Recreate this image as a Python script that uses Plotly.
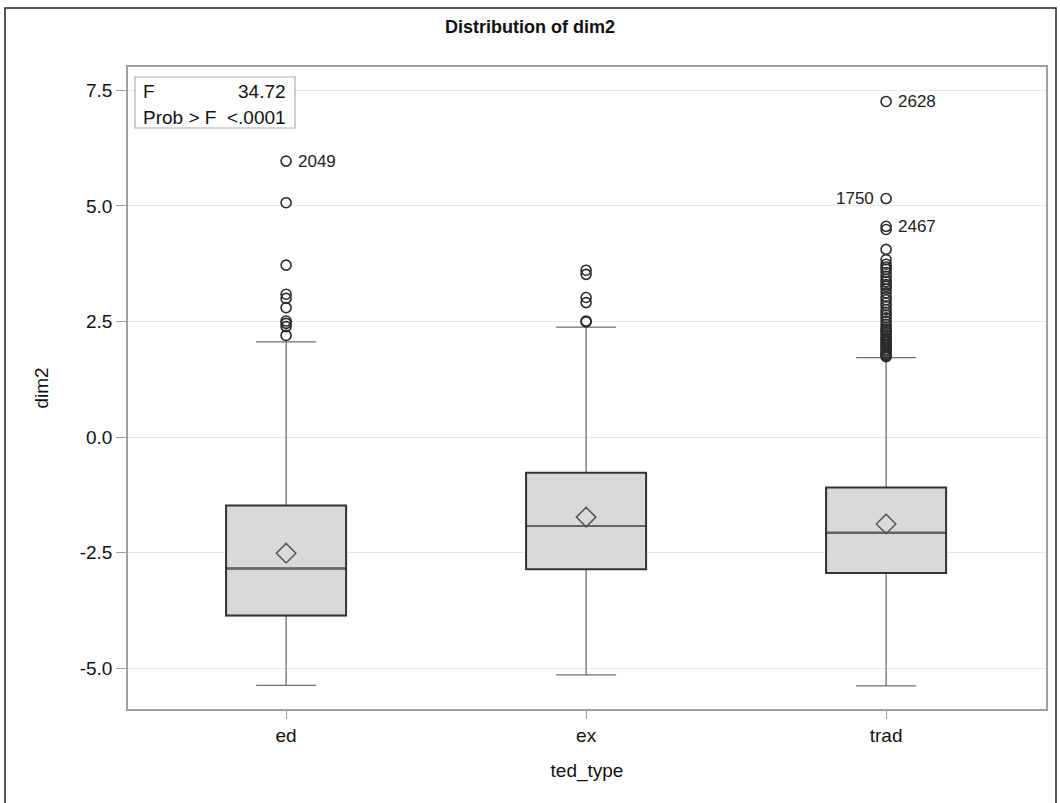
import plotly.graph_objects as go

# ---------------- data ----------------
categories = ["ed", "ex", "trad"]
q1 = [-3.86, -2.86, -2.94]
median = [-2.84, -1.92, -2.07]
q3 = [-1.48, -0.77, -1.09]
lower_whisker = [-5.37, -5.14, -5.38]
upper_whisker = [2.06, 2.38, 1.72]
means = [-2.51, -1.73, -1.88]

ed_outliers = [2.20, 2.39, 2.46, 2.51, 2.80, 3.00, 3.09, 3.72, 5.07, 5.97]
ex_outliers = [2.49, 2.51, 2.91, 3.02, 3.52, 3.61]
trad_outliers = [1.74, 1.76, 1.79, 1.82, 1.86, 1.90, 1.94, 1.97, 2.01, 2.04,
                 2.08, 2.12, 2.15, 2.20, 2.26, 2.30, 2.33, 2.38, 2.44, 2.51,
                 2.58, 2.64, 2.70, 2.76, 2.84, 2.90, 2.97, 3.03, 3.12, 3.20,
                 3.26, 3.30, 3.36, 3.41, 3.48, 3.56, 3.63, 3.68, 3.74, 3.84,
                 4.06, 4.49, 4.56, 5.16, 7.26]
outliers = [ed_outliers, ex_outliers, trad_outliers]

label_cat = [0, 2, 2, 2]
label_val = [5.97, 7.26, 4.56, 5.16]
label_text = ["2049", "2628", "2467", "1750"]
label_side = ["right", "right", "right", "left"]

stat_names = ["F", "Prob > F"]
stat_values = ["34.72", "<.0001"]

y_ticks = [-5.0, -2.5, 0.0, 2.5, 5.0, 7.5]

# ---------------- layout geometry ----------------
W, H = 1060, 803
L, R, T, B = 128, 14, 67, 94
pw, ph = W - L - R, H - T - B
FONT = "Liberation Sans, Arial, sans-serif"
BOXW = 0.4

def px_x(p):
    return (p - L) / pw

def px_y(p):
    return (H - B - p) / ph

xs = list(range(len(categories)))
fig = go.Figure()

# whiskers + caps (gray, thin)
fig.add_trace(go.Box(
    x=xs, q1=q1, median=median, q3=q3,
    lowerfence=lower_whisker, upperfence=upper_whisker,
    width=BOXW, whiskerwidth=0.5, boxpoints=False,
    line=dict(color="#6e6e6e", width=1.3),
    fillcolor="rgba(0,0,0,0)", hoverinfo="skip", showlegend=False,
))
# box body (dark outline, light fill)
fig.add_trace(go.Box(
    x=xs, q1=q1, median=median, q3=q3,
    lowerfence=q1, upperfence=q3,
    width=BOXW, whiskerwidth=0, boxpoints=False,
    line=dict(color="#333333", width=2),
    fillcolor="#d9d9d9", hoverinfo="skip", showlegend=False,
))
# median lines (gray)
for i, m in enumerate(median):
    fig.add_trace(go.Scatter(
        x=[i - BOXW / 2 + 0.004, i + BOXW / 2 - 0.004], y=[m, m], mode="lines",
        line=dict(color="#666666", width=2), hoverinfo="skip", showlegend=False,
    ))
# means (open diamonds)
fig.add_trace(go.Scatter(
    x=xs, y=means, mode="markers",
    marker=dict(symbol="diamond-open", size=15, color="#555555", line=dict(width=1.5)),
    hoverinfo="skip", showlegend=False,
))
# outliers (open circles)
for i, vals in enumerate(outliers):
    fig.add_trace(go.Scatter(
        x=[i] * len(vals), y=vals, mode="markers",
        marker=dict(symbol="circle-open", size=10, color="#2b2b2b", line=dict(width=1.6)),
        hoverinfo="skip", showlegend=False,
    ))

# outlier ID labels
for c, v, t, s in zip(label_cat, label_val, label_text, label_side):
    fig.add_annotation(
        x=c, y=v, text=t, showarrow=False,
        xanchor="left" if s == "right" else "right",
        xshift=10 if s == "right" else -10,
        font=dict(family=FONT, size=17, color="#222222"),
    )

# stats inset box
fig.add_shape(type="rect", xref="paper", yref="paper",
              x0=px_x(135), x1=px_x(295), y0=px_y(128), y1=px_y(77),
              line=dict(color="#b0b0b0", width=1.2), fillcolor="white", layer="above")
for k, (n, v) in enumerate(zip(stat_names, stat_values)):
    yy = px_y(92 + 25 * k)
    fig.add_annotation(xref="paper", yref="paper", x=px_x(141), y=yy, text=n,
                       showarrow=False, xanchor="left", yanchor="middle",
                       font=dict(family=FONT, size=19, color="#111111"))
    fig.add_annotation(xref="paper", yref="paper", x=px_x(288), y=yy, text=v,
                       showarrow=False, xanchor="right", yanchor="middle",
                       font=dict(family=FONT, size=19, color="#111111"))

# outer border of image
fig.add_shape(type="rect", xref="paper", yref="paper",
              x0=px_x(5), x1=px_x(1056), y0=px_y(812), y1=px_y(8),
              line=dict(color="#222222", width=1.5), fillcolor="rgba(0,0,0,0)")

fig.update_layout(
    width=W, height=H,
    margin=dict(l=L, r=R, t=T, b=B, pad=0),
    paper_bgcolor="white", plot_bgcolor="white",
    boxmode="overlay",
    title=dict(text="<b>Distribution of dim2</b>", x=px_x(587), xanchor="center",
               y=1 - 27 / H, yanchor="middle",
               font=dict(family=FONT, size=18, color="#111111")),
    font=dict(family=FONT, size=19, color="#111111"),
    xaxis=dict(
        range=[-0.527, 2.533], tickvals=xs, ticktext=categories,
        showgrid=False, zeroline=False,
        showline=True, mirror=True, linecolor="#a0a0a0", linewidth=1.5,
        ticks="outside", ticklen=8, tickcolor="#a0a0a0",
        tickfont=dict(family=FONT, size=19, color="#111111"),
        title=dict(text="ted_type", standoff=19,
                   font=dict(family=FONT, size=19, color="#111111")),
    ),
    yaxis=dict(
        range=[-5.88, 8.005], tickvals=y_ticks,
        ticktext=[f"{t:.1f}" for t in y_ticks],
        showgrid=True, gridcolor="#e8e8e8", gridwidth=1.2, zeroline=False,
        showline=True, mirror=True, linecolor="#a0a0a0", linewidth=1.5,
        ticks="outside", ticklen=10, tickcolor="#a0a0a0",
        tickfont=dict(family=FONT, size=19, color="#111111"),
        title=dict(text="dim2", standoff=26,
                   font=dict(family=FONT, size=19, color="#111111")),
    ),
)

fig.write_html("out.html", config={"displayModeBar": False},
               post_script="document.body.style.margin='0';")
